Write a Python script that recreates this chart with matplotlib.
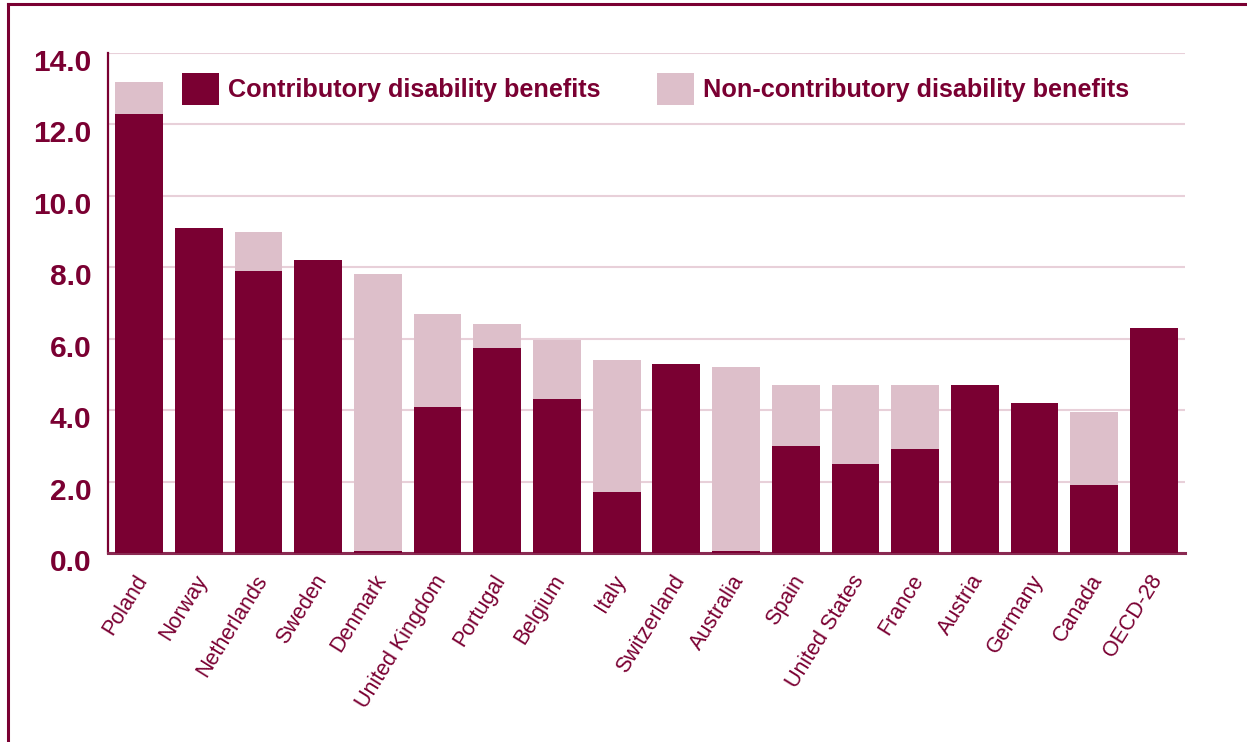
import matplotlib.pyplot as plt
import matplotlib.transforms as mtransforms
from matplotlib.patches import Patch
from matplotlib.lines import Line2D

# ---- Data: disability benefit spending by country ----

countries = ['Poland', 'Norway', 'Netherlands', 'Sweden', 'Denmark', 'United Kingdom',
             'Portugal', 'Belgium', 'Italy', 'Switzerland', 'Australia', 'Spain',
             'United States', 'France', 'Austria', 'Germany', 'Canada', 'OECD-28']
contributory = [12.3, 9.1, 7.9, 8.2, 0.05, 4.1, 5.75, 4.3, 1.7, 5.3, 0.05, 3.0,
                2.5, 2.9, 4.7, 4.2, 1.9, 6.3]
non_contributory = [0.9, 0.0, 1.1, 0.0, 7.75, 2.6, 0.65, 1.65, 3.7, 0.0, 5.15, 1.7,
                    2.2, 1.8, 0.0, 0.0, 2.05, 0.0]
y_ticks = [0, 2, 4, 6, 8, 10, 12, 14]

# ---- Styling ----

dark = '#7A0032'
light = '#DDBFCA'
grid_col = '#E8D0D9'
plt.rcParams['font.family'] = ['Liberation Sans', 'DejaVu Sans']

fig = plt.figure(figsize=(12.47, 7.42), dpi=100)
ax = fig.add_axes([108 / 1247, 1 - 553 / 742, (1185 - 108) / 1247, (553 - 53) / 742])

x = range(len(countries))
ax.bar(x, contributory, width=0.8, color=dark, zorder=3)
ax.bar(x, non_contributory, width=0.8, bottom=contributory, color=light, zorder=3)

ax.set_xlim(-0.52, 17.52)
ax.set_ylim(0, 14)
ax.set_yticks(y_ticks)
ax.set_yticklabels([f'{v:.1f}' for v in y_ticks], fontsize=21.5, fontweight='bold', color=dark)
ax.tick_params(axis='y', length=0, pad=12)
# y labels sit a little below their gridlines
shift_y = mtransforms.ScaledTranslation(0, -7 / 100, fig.dpi_scale_trans)
for lbl in ax.get_yticklabels():
    lbl.set_transform(lbl.get_transform() + shift_y)
ax.yaxis.grid(True, color=grid_col, linewidth=1.5, zorder=0)
ax.set_axisbelow(True)

ax.set_xticks(list(x))
ax.set_xticklabels(countries, rotation=58, ha='right', va='center', rotation_mode='anchor',
                   fontsize=15.5, color=dark)
ax.tick_params(axis='x', length=0, pad=17)
shift_x = mtransforms.ScaledTranslation(4 / 100, 0, fig.dpi_scale_trans)
for lbl in ax.get_xticklabels():
    lbl.set_transform(lbl.get_transform() + shift_x)

for side in ['top', 'right']:
    ax.spines[side].set_visible(False)
ax.spines['left'].set_color(dark)
ax.spines['left'].set_linewidth(1.6)
ax.spines['bottom'].set_color('#8A2A52')
ax.spines['bottom'].set_linewidth(2.2)

handles = [Patch(facecolor=dark, edgecolor='none', label='Contributory disability benefits'),
           Patch(facecolor=light, edgecolor='none', label='Non-contributory disability benefits')]
leg = ax.legend(handles=handles, ncol=2, frameon=False, loc='upper left',
                bbox_to_anchor=(182 / 1247, 1 - 73 / 742), bbox_transform=fig.transFigure,
                borderpad=0, borderaxespad=0, handlelength=1.45, handleheight=1.55,
                handletextpad=0.36, columnspacing=2.25,
                prop={'size': 18.2, 'weight': 'bold'})
for t in leg.get_texts():
    t.set_color(dark)

# outer frame (top and left edges)
fig.add_artist(Line2D([8 / 1247, 1], [1 - 4 / 742, 1 - 4 / 742], color=dark, linewidth=2.2,
                      transform=fig.transFigure))
fig.add_artist(Line2D([8 / 1247, 8 / 1247], [0, 1 - 4 / 742], color=dark, linewidth=2.2,
                      transform=fig.transFigure))

fig.savefig('out.png', dpi=100)
